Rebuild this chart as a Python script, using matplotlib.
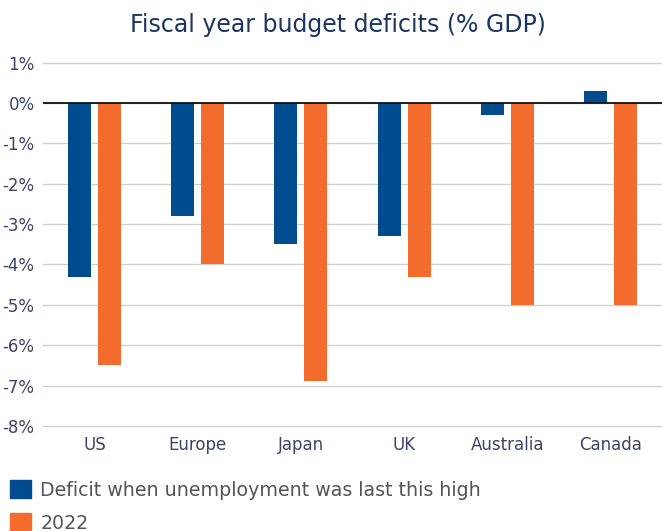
import numpy as np
import matplotlib.pyplot as plt
from matplotlib.patches import Patch

# Values (% of GDP)
countries = ['US', 'Europe', 'Japan', 'UK', 'Australia', 'Canada']
deficit_last_high = [-4.3, -2.8, -3.5, -3.3, -0.3, 0.3]
deficit_2022 = [-6.5, -4.0, -6.9, -4.3, -5.0, -5.0]
yticks = [1, 0, -1, -2, -3, -4, -5, -6, -7, -8]

blue = '#004c8f'
orange = '#f46c2d'
label_col = '#3b4466'

plt.rcParams['font.family'] = ['DejaVu Sans']

fig = plt.figure(figsize=(6.62, 5.31), dpi=100)
ax = fig.add_axes([0.065, 0.198, 0.935, 0.684])

x = np.arange(len(countries))
w = 0.223
ax.bar(x - 0.145, deficit_last_high, width=w, color=blue, zorder=3)
ax.bar(x + 0.145, deficit_2022, width=w, color=orange, zorder=3)

ax.set_xlim(-0.5, len(countries) - 0.5)
ax.set_ylim(-8, 1)
ax.set_yticks(yticks)
ax.set_yticklabels([f'{v}%' for v in yticks], color=label_col, fontsize=12)
ax.set_xticks(x)
ax.set_xticklabels(countries, color=label_col, fontsize=12)
ax.tick_params(length=0, pad=7)
ax.tick_params(axis='y', pad=6)
ax.yaxis.grid(True, color='#d0d0d0', linewidth=1, zorder=0)
for g in ax.get_ygridlines():
    g.set_clip_on(False)
ax.axhline(0, color='#111111', linewidth=1.3, zorder=4)
for s in ax.spines.values():
    s.set_visible(False)

fig.text(0.51, 0.953, 'Fiscal year budget deficits (% GDP)', ha='center', va='center',
         fontsize=17, color='#1c3563')

handles = [Patch(color=blue), Patch(color=orange)]
fig.legend(handles, ['Deficit when unemployment was last this high', '2022'],
           loc='upper left', bbox_to_anchor=(0.015, 0.096), frameon=False,
           fontsize=13.7, handlelength=1.1, handleheight=1.1, handletextpad=0.5,
           labelspacing=0.7, labelcolor='#555555', borderaxespad=0.0, borderpad=0.0)

fig.savefig('out.png', dpi=100)
